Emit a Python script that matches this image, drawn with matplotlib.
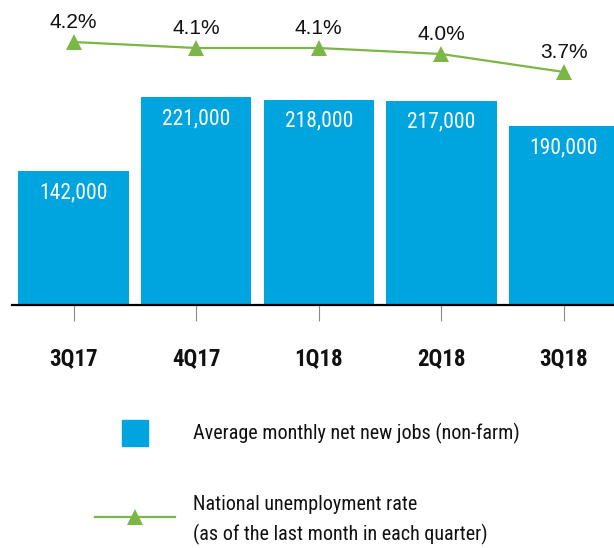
# -------------------- Modules --------------------
import matplotlib
matplotlib.use("Agg")
from matplotlib import pyplot as plt
from matplotlib.patches import Rectangle
from matplotlib.lines import Line2D


# -------------------- Data --------------------
quarters = ["3Q17", "4Q17", "1Q18", "2Q18", "3Q18"]
net_new_jobs = [142000, 221000, 218000, 217000, 190000]
unemployment_rate = [4.2, 4.1, 4.1, 4.0, 3.7]
bar_labels = ["142,000", "221,000", "218,000", "217,000", "190,000"]
rate_labels = ["4.2%", "4.1%", "4.1%", "4.0%", "3.7%"]
legend_labels = [
    "Average monthly net new jobs (non-farm)",
    "National unemployment rate\n(as of the last month in each quarter)",
]

BLUE = "#00a5df"
GREEN = "#7cb646"
NARROW = ["Roboto Condensed", "Archivo Narrow", "Liberation Sans", "DejaVu Sans"]
REGULAR = ["Liberation Sans", "DejaVu Sans"]

W, H = 614, 548


def px_x(p):
    return p / W


def px_y(p):
    """pixel from top -> figure fraction"""
    return 1 - p / H


# -------------------- Plot --------------------
fig = plt.figure(figsize=(W / 100, H / 100), dpi=100)
ax = fig.add_axes([px_x(11.7), px_y(305), 1 - px_x(11.7), 305 / H])
x = list(range(len(quarters)))

ax.bar(x, net_new_jobs, width=0.9, color=BLUE, zorder=2)
ax.set_xlim(-0.505, 4.408)
ax.set_ylim(0, 324000)
ax.set_yticks([])
for s in ["top", "left", "right"]:
    ax.spines[s].set_visible(False)
ax.spines["bottom"].set_linewidth(1.6)
ax.spines["bottom"].set_color("black")
ax.spines["bottom"].set_zorder(3)
ax.set_xticks(x, quarters, family=NARROW, weight="bold", fontsize=16.5,
              color="#111111")
ax.tick_params(axis="x", direction="out", length=11.5, width=0.8,
               color="#8a8a8a", pad=18.5)

for xi, v, lab in zip(x, net_new_jobs, bar_labels):
    ax.annotate(lab, (xi, v), xytext=(0, -19.5), textcoords="offset points",
                ha="center", va="baseline", color="white", fontsize=15.5,
                family=NARROW)

ax2 = ax.twinx()
ax2.set_ylim(-0.183, 4.9)
ax2.axis("off")
ax2.plot(x, unemployment_rate, color=GREEN, lw=1.6, marker="^",
         markersize=11, markeredgewidth=0, zorder=4, clip_on=False)
for xi, v, lab in zip(x, unemployment_rate, rate_labels):
    ax2.annotate(lab, (xi, v), xytext=(0, 10.3), textcoords="offset points",
                 ha="center", va="baseline", color="#111111", fontsize=15,
                 family=REGULAR)

# -------------------- Legend --------------------
fig.add_artist(Rectangle((px_x(122), px_y(446)), px_x(26), 26 / H,
                         transform=fig.transFigure, color=BLUE))
fig.add_artist(Line2D([px_x(95), px_x(175)], [px_y(517), px_y(517)],
                      transform=fig.transFigure, color=GREEN, lw=1.6))
fig.add_artist(Line2D([px_x(135)], [px_y(517)], transform=fig.transFigure,
                      color=GREEN, marker="^", markersize=11,
                      markeredgewidth=0))
fig.text(px_x(193), px_y(433), legend_labels[0], ha="left", va="center",
         fontsize=14.5, family=NARROW, color="#111111")
fig.text(px_x(193), px_y(520), legend_labels[1], ha="left", va="center",
         fontsize=14.5, family=NARROW, color="#111111", linespacing=1.6)

fig.savefig("out.png", dpi=100)
